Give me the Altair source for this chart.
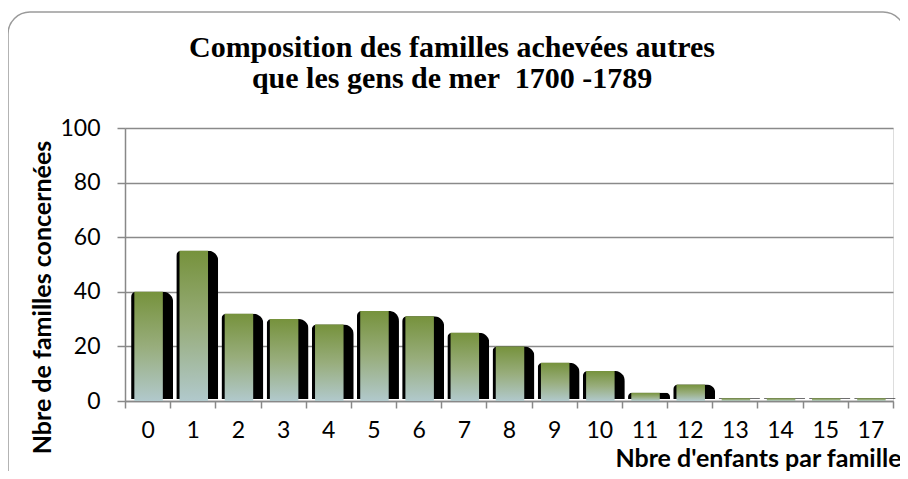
import altair as alt
import pandas as pd

categories = ["0", "1", "2", "3", "4", "5", "6", "7", "8", "9", "10",
              "11", "12", "13", "14", "15", "17"]
values = [40, 55, 32, 30, 28, 33, 31, 25, 20, 14, 11, 3, 6, 1, 1, 1, 1]
y_ticks = [0, 20, 40, 60, 80, 100]

title_lines = ["Composition des familles achevées autres",
               "que les gens de mer \u00a01700 -1789"]
x_title = "Nbre d'enfants par famille"
y_title = "Nbre de familles concernées"

df = pd.DataFrame({"cat": categories, "val": values})

W, H = 768, 273

x_enc = alt.X("cat:N", sort=categories,
              scale=alt.Scale(paddingInner=0, paddingOuter=0),
              axis=alt.Axis(title=x_title, labelAngle=0, labelFont="Lato",
                            labelFontSize=23, labelColor="black", labelPadding=11,
                            tickSize=7, tickBand="extent", tickColor="#888888",
                            tickWidth=1.5, domainColor="#888888", domainWidth=1.5,
                            titleFont="Lato", titleFontSize=25, titleFontWeight="bold",
                            titleColor="black", titleX=776, titleY=65,
                            titleAlign="right", titleBaseline="alphabetic",
                            titleAnchor="end"))
y_enc = alt.Y("val:Q", scale=alt.Scale(domain=[0, 100], nice=False),
              axis=alt.Axis(title=y_title, values=y_ticks, labelFont="Lato",
                            labelFontSize=23, labelColor="black", labelPadding=17,
                            tickSize=8, tickColor="#888888", tickWidth=1.5,
                            domainColor="#888888", domainWidth=1.5,
                            gridColor="#8a8a8a", gridWidth=1.5,
                            titleFont="Lato", titleFontSize=25, titleFontWeight="bold",
                            titleColor="black", titleX=-83, titleY=169,
                            titleAngle=270, titleAlign="center",
                            titleBaseline="middle"))

frame = alt.Chart(pd.DataFrame({"a": [0]})).mark_rect(
    fill="white", fillOpacity=0, stroke="#9a9a9a", strokeWidth=1.5, cornerRadius=22
).encode(x=alt.value(-117), x2=alt.value(780), y=alt.value(-116), y2=alt.value(400))

shadow = alt.Chart(df).mark_bar(
    color="black", size=42, xOffset=4.5, yOffset=-2,
    cornerRadiusTopRight=10, cornerRadiusTopLeft=5
).encode(x=x_enc, y=y_enc)

front = alt.Chart(df).mark_bar(
    size=28.5, xOffset=1,
    color=alt.LinearGradient(
        gradient="linear",
        stops=[alt.GradientStop(color="#76923c", offset=0),
               alt.GradientStop(color="#98ad7c", offset=0.5),
               alt.GradientStop(color="#b1c9cc", offset=1)],
        x1=0, x2=0, y1=0, y2=1)
).encode(x=x_enc, y=y_enc)

chart = alt.layer(frame, shadow, front).properties(
    width=W, height=H,
    title=alt.TitleParams(text=title_lines, font="Liberation Serif", fontSize=30,
                          fontWeight="bold", color="black", anchor="middle",
                          dx=-57, dy=121, offset=38, lineHeight=31),
    autosize=alt.AutoSizeParams(type="none"),
    padding={"left": 117, "top": 120, "right": 7, "bottom": 70},
).configure_view(stroke=None).configure(background="white")

chart.save("out.html", embed_options={"renderer": "svg", "actions": False})
